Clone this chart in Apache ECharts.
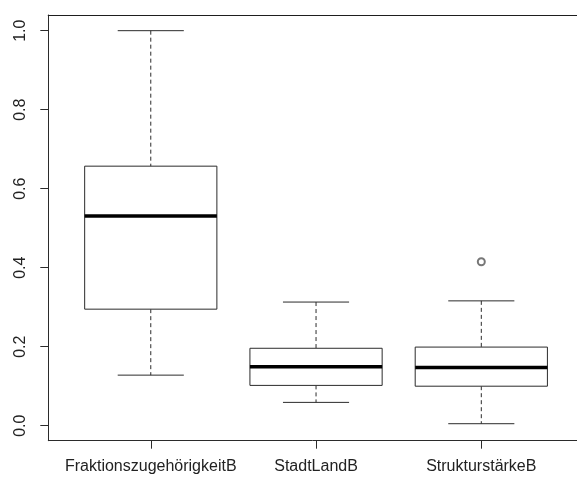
<!DOCTYPE html>
<html>
<head>
<meta charset="utf-8">
<script src="https://cdn.jsdelivr.net/npm/echarts@6/dist/echarts.min.js"></script>
<style>
  html, body { margin: 0; padding: 0; background: #ffffff; }
  #chart { width: 577px; height: 479px; }
</style>
</head>
<body>
<div id="chart"></div>
<script>
// Five-number summaries per variable
const categories = ['FraktionszugehörigkeitB', 'StadtLandB', 'StrukturstärkeB'];
const lowerWhisker = [0.128, 0.059, 0.005];
const lowerQuartile = [0.295, 0.102, 0.100];
const medianValue = [0.531, 0.149, 0.147];
const upperQuartile = [0.657, 0.196, 0.199];
const upperWhisker = [1.0, 0.313, 0.316];

// Points beyond the whiskers: group position (1-based) and value
const outlierGroup = [3];
const outlierValue = [0.415];

const yTicks = [0, 0.2, 0.4, 0.6, 0.8, 1.0];
const yTickLabels = ['0.0', '0.2', '0.4', '0.6', '0.8', '1.0'];

const boxRows = categories.map((c, i) => [
  i + 1, lowerWhisker[i], lowerQuartile[i], medianValue[i], upperQuartile[i], upperWhisker[i]
]);
const outlierRows = outlierGroup.map((g, i) => [g, outlierValue[i]]);

const ink = '#2b2b2b';
const BOX_HALF = 0.4;
const CAP_HALF = 0.2;

function renderBox(params, api) {
  const x = api.value(0);
  const lo = api.value(1), q1 = api.value(2), md = api.value(3), q3 = api.value(4), hi = api.value(5);
  const tl = api.coord([x - BOX_HALF, q3]);
  const br = api.coord([x + BOX_HALF, q1]);
  const mL = api.coord([x - BOX_HALF, md]);
  const mR = api.coord([x + BOX_HALF, md]);
  const cHiL = api.coord([x - CAP_HALF, hi]);
  const cHiR = api.coord([x + CAP_HALF, hi]);
  const cLoL = api.coord([x - CAP_HALF, lo]);
  const cLoR = api.coord([x + CAP_HALF, lo]);
  const cx = api.coord([x, q3])[0];
  const yHi = api.coord([x, hi])[1];
  const yLo = api.coord([x, lo])[1];
  const yQ3 = tl[1], yQ1 = br[1];
  const solid = { stroke: ink, lineWidth: 1, fill: null };
  const dashed = { stroke: ink, lineWidth: 1, lineDash: [4, 3] };
  return {
    type: 'group',
    children: [
      { type: 'line', shape: { x1: cx, y1: yHi, x2: cx, y2: yQ3 }, style: dashed },
      { type: 'line', shape: { x1: cx, y1: yQ1, x2: cx, y2: yLo }, style: dashed },
      { type: 'line', shape: { x1: cHiL[0], y1: cHiL[1], x2: cHiR[0], y2: cHiR[1] }, style: solid },
      { type: 'line', shape: { x1: cLoL[0], y1: cLoL[1], x2: cLoR[0], y2: cLoR[1] }, style: solid },
      { type: 'rect', shape: { x: tl[0], y: tl[1], width: br[0] - tl[0], height: br[1] - tl[1] },
        style: { stroke: ink, lineWidth: 1, fill: '#ffffff' } },
      { type: 'line', shape: { x1: mL[0], y1: mL[1], x2: mR[0], y2: mR[1] },
        style: { stroke: '#000000', lineWidth: 3.5 } }
    ]
  };
}

const chart = echarts.init(document.getElementById('chart'), null, { renderer: 'canvas' });
const labelFont = { fontFamily: 'Liberation Sans, Arial, sans-serif', fontSize: 16, color: '#222222' };
const frameLine = { show: true, onZero: false, lineStyle: { color: ink, width: 1 } };

// The plotting region runs past the right edge of the canvas, so the x range
// stops at the value that lands on the canvas edge and no right border is drawn.
chart.setOption({
  animation: false,
  backgroundColor: '#ffffff',
  grid: { left: 48.3, top: 15, right: 0, bottom: 38.3 },
  xAxis: [
    {
      type: 'value', min: 0.38, max: 3.579, position: 'bottom',
      axisLine: frameLine,
      splitLine: { show: false },
      axisTick: { show: true, length: 8, customValues: [1, 2, 3], lineStyle: { color: ink } },
      axisLabel: Object.assign({
        customValues: [1, 2, 3],
        margin: 18,
        formatter: v => categories[Math.round(v) - 1] || ''
      }, labelFont)
    },
    {
      type: 'value', min: 0.38, max: 3.579, position: 'top',
      axisLine: { show: true, onZero: false, lineStyle: { color: '#1e1e1e', width: 1.2 } },
      axisTick: { show: false }, axisLabel: { show: false }, splitLine: { show: false }
    }
  ],
  yAxis: {
    type: 'value', min: -0.038, max: 1.0397,
    axisLine: frameLine,
    splitLine: { show: false },
    axisTick: { show: true, length: 8, customValues: yTicks, lineStyle: { color: ink } },
    axisLabel: Object.assign({
      customValues: yTicks,
      rotate: 90,
      margin: 20,
      align: 'center',
      verticalAlign: 'bottom',
      formatter: v => yTickLabels[yTicks.findIndex(t => Math.abs(t - v) < 1e-9)] || ''
    }, labelFont)
  },
  series: [
    {
      type: 'custom',
      renderItem: renderBox,
      encode: { x: 0, y: [1, 2, 3, 4, 5] },
      data: boxRows,
      z: 2
    },
    {
      type: 'scatter',
      data: outlierRows,
      symbol: 'emptyCircle',
      symbolSize: 7,
      itemStyle: { color: '#555555', borderColor: '#555555', borderWidth: 0.8 },
      z: 3
    }
  ]
});
</script>
</body>
</html>
